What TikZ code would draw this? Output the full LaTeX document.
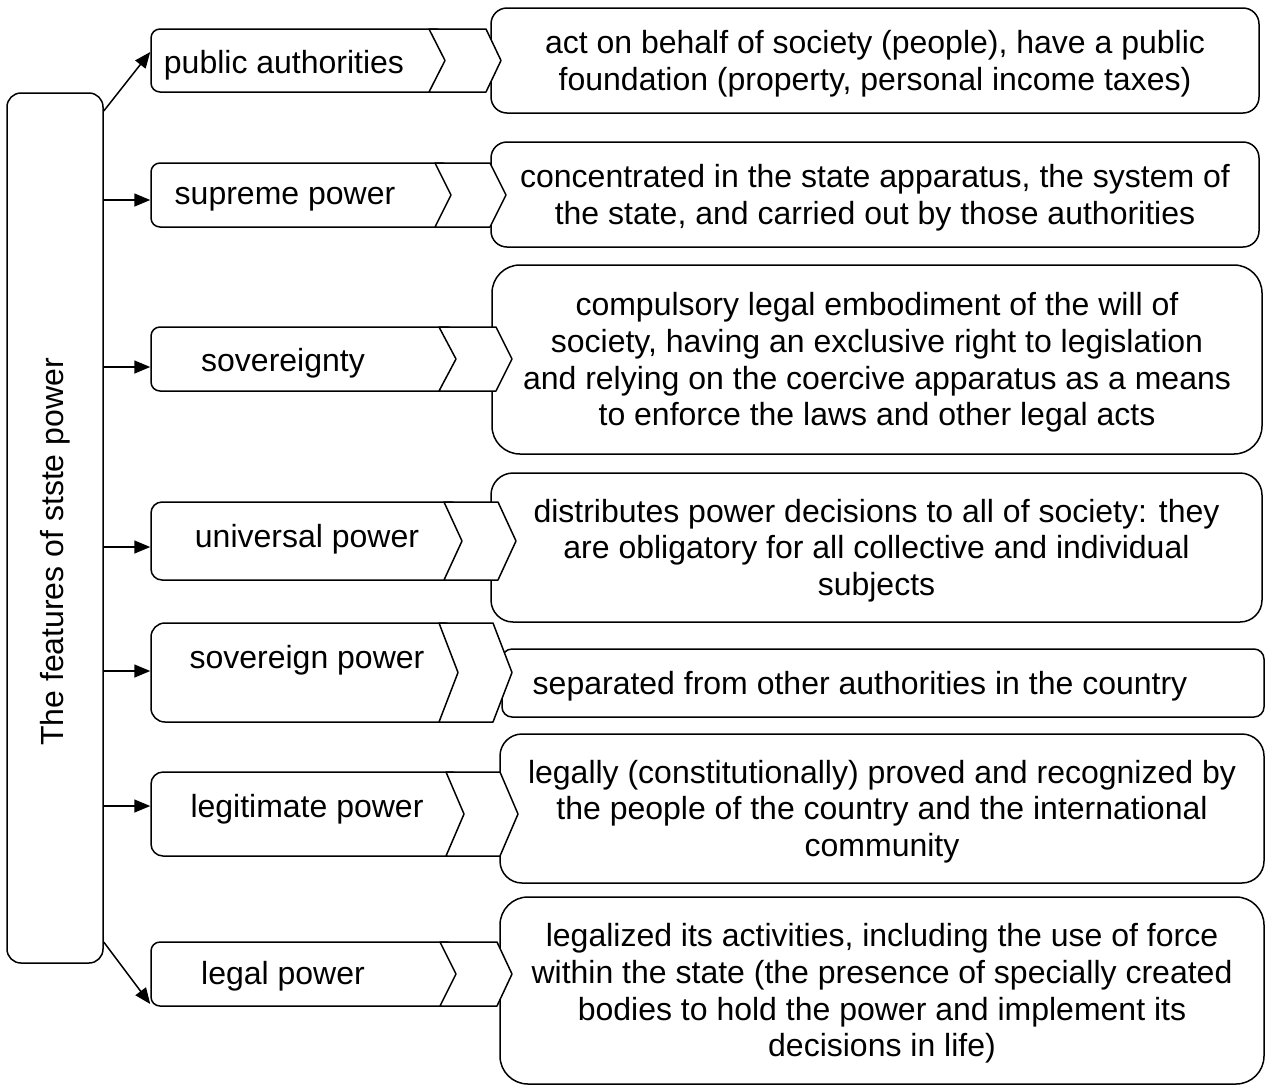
\documentclass[tikz,border=0pt]{standalone}
\usepackage{fontspec}
\setmainfont{Liberation Sans}
\usetikzlibrary{arrows.meta}
\begin{document}
\begin{tikzpicture}[x=1pt,y=-1pt,
  every node/.style={font=\fontsize{32}{36.7}\selectfont},
  line/.style={line width=1.5pt,line join=round},
  featbox/.style={line, draw, fill=white, inner sep=0pt},
  descbox/.style={line, draw, fill=white, inner sep=0pt},
  txt/.style={align=center, yshift=-3pt},
  chev/.style={line, draw, fill=white},
  conn/.style={line, -{Triangle[length=16pt,width=13pt]}},
]
\useasboundingbox (0,0) rectangle (1266,1088);

% left box
\node[featbox, rounded corners=14pt, minimum width=96pt, minimum height=870pt] (L) at (55,528) {};
\node[rotate=90, xshift=-2pt] (Lt) at (55,550) {The features of stste power};

% description boxes
\node[descbox, rounded corners=16pt, minimum width=768pt, minimum height=105pt] (D1) at (875,60.5) {};
\node[txt] (D1t) at (D1.center)
  {act on behalf of society (people), have a public\\foundation (property, personal income taxes)};
\node[descbox, rounded corners=16pt, minimum width=768pt, minimum height=105pt] (D2) at (875,194.5) {};
\node[txt] (D2t) at (D2.center)
  {concentrated in the state apparatus, the system of\\the state, and carried out by those authorities};
\node[descbox, rounded corners=28pt, minimum width=770pt, minimum height=189pt] (D3) at (877,359.5) {};
\node[txt] (D3t) at (D3.center)
  {compulsory legal embodiment of the will of\\society, having an exclusive right to legislation\\and relying on the coercive apparatus as a means\\to enforce the laws and other legal acts};
\node[descbox, rounded corners=22pt, minimum width=771pt, minimum height=149pt] (D4) at (876.5,547.5) {};
\node[txt] (D4t) at (D4.center)
  {distributes power decisions to all of society: they\\are obligatory for all collective and individual\\subjects};
\node[descbox, rounded corners=10pt, minimum width=762pt, minimum height=68pt] (D5) at (883,683) {};
\node[txt] (D5t) at (860,683) {separated from other authorities in the country};
\node[descbox, rounded corners=22pt, minimum width=764pt, minimum height=149pt] (D6) at (882,808.5) {};
\node[txt] (D6t) at (D6.center)
  {legally (constitutionally) proved and recognized by\\the people of the country and the international\\community};
\node[descbox, rounded corners=28pt, minimum width=764pt, minimum height=187pt] (D7) at (882,990.5) {};
\node[txt] (D7t) at (D7.center)
  {legalized its activities, including the use of force\\within the state (the presence of specially created\\bodies to hold the power and implement its\\decisions in life)};

% feature boxes: rounded part, chevron, text
\node[featbox, rounded corners=9pt, minimum width=294pt, minimum height=63pt] (F1) at (298,60.5) {};
\draw[chev] (429,29) -- (486,29) -- (501,60.5) -- (486,92) -- (429,92) -- (445,60.5) -- cycle;
\node[txt] (T1) at (284,62) {public authorities};

\node[featbox, rounded corners=9pt, minimum width=300pt, minimum height=64pt] (F2) at (301,195) {};
\draw[chev] (435,163) -- (490,163) -- (506,195) -- (490,227) -- (435,227) -- (451,195) -- cycle;
\node[txt] (T2) at (285,196) {supreme power};

\node[featbox, rounded corners=9pt, minimum width=305pt, minimum height=64pt] (F3) at (303.5,359) {};
\draw[chev] (439,327) -- (496,327) -- (512,359) -- (496,391) -- (439,391) -- (456,359) -- cycle;
\node[txt] (T3) at (283,360) {sovereignty};

\node[featbox, rounded corners=11pt, minimum width=311pt, minimum height=78pt] (F4) at (306.5,541) {};
\draw[chev] (444,502) -- (498,502) -- (516,541) -- (498,580) -- (444,580) -- (462,541) -- cycle;
\node[txt] (T4) at (307,536) {universal power};

\node[featbox, rounded corners=14pt, minimum width=307pt, minimum height=99pt] (F5) at (304.5,672.5) {};
\draw[chev] (439,623) -- (493,623) -- (512,672.5) -- (493,722) -- (439,722) -- (458,672.5) -- cycle;
\node[txt] (T5) at (307,657) {sovereign power};

\node[featbox, rounded corners=12pt, minimum width=313pt, minimum height=84pt] (F6) at (307.5,814) {};
\draw[chev] (446,772) -- (500,772) -- (518,814) -- (500,856) -- (446,856) -- (464,814) -- cycle;
\node[txt] (T6) at (307,806) {legitimate power};

\node[featbox, rounded corners=9pt, minimum width=305pt, minimum height=64pt] (F7) at (303.5,974) {};
\draw[chev] (440,942) -- (497,942) -- (512,974) -- (497,1006) -- (440,1006) -- (456,974) -- cycle;
\node[txt] (T7) at (283,973) {legal power};

% connectors
\draw[conn] (L.east |- 0,111) -- (F1.west |- 0,52);
\draw[conn] (L.east |- 0,200) -- (F2.west |- 0,200);
\draw[conn] (L.east |- 0,367) -- (F3.west |- 0,367);
\draw[conn] (L.east |- 0,547) -- (F4.west |- 0,547);
\draw[conn] (L.east |- 0,671) -- (F5.west |- 0,671);
\draw[conn] (L.east |- 0,806) -- (F6.west |- 0,806);
\draw[conn] (L.east |- 0,942) -- (F7.west |- 0,1004);
\end{tikzpicture}
\end{document}
